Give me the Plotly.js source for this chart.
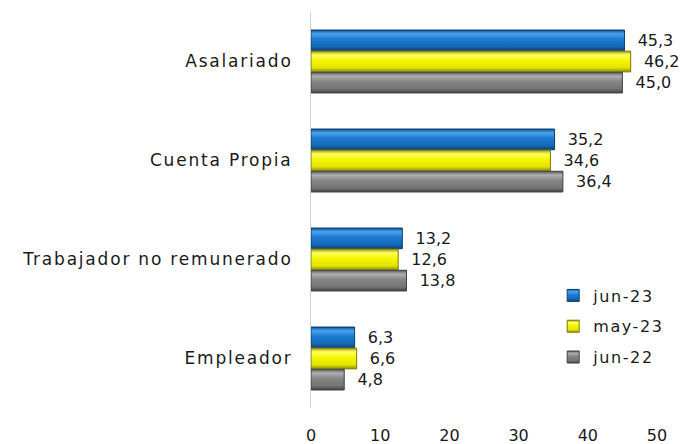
<!DOCTYPE html>
<html><head><meta charset="utf-8">
<script src="https://cdn.plot.ly/plotly-3.0.1.min.js"></script>
<style>
html,body{margin:0;padding:0;background:#fff}
#chart .ytick text{letter-spacing:1.8px}
#chart .legendtext{letter-spacing:1.6px}
</style>
</head><body>
<div id="chart" style="width:697px;height:444px"></div>
<script>
const categories = ["Asalariado", "Cuenta Propia", "Trabajador no remunerado", "Empleador"];
const seriesNames = ["jun-23", "may-23", "jun-22"];
const jun23 = [45.3, 35.2, 13.2, 6.3];
const may23 = [46.2, 34.6, 12.6, 6.6];
const jun22 = [45.0, 36.4, 13.8, 4.8];
const xTicks = [0, 10, 20, 30, 40, 50];

const colors = ["#1472C4", "#F2F200", "#7F7F7F"];
const edges = ["#0B3F70", "#7A7A00", "#404040"];
// gradient stops (top -> bottom) for a bevelled look
const grads = [
  ["#0D4F8E", "#4AA3EC", "#1C7BD0", "#1469B6", "#0A4279"],
  ["#9C9C00", "#FFFF66", "#F5F500", "#E4E400", "#8E8E00"],
  ["#555555", "#B0B0B0", "#858585", "#747474", "#444444"]
];
const FONT = "DejaVu Sans, sans-serif";

const series = [jun23, may23, jun22];
const traces = series.map((vals, i) => ({
  type: "bar",
  orientation: "h",
  name: seriesNames[i],
  legendgroup: "g" + i,
  y: categories,
  x: vals,
  marker: {color: colors[i], line: {color: edges[i], width: 1}},
  text: vals.map(v => "  " + v.toFixed(1).replace(".", ",")),
  textposition: "outside",
  cliponaxis: false,
  textfont: {family: FONT, size: 16, color: "#1a1a1a"},
  hoverinfo: "none"
}));

const layout = {
  width: 697, height: 444,
  margin: {l: 311, r: 40, t: 12, b: 36},
  barmode: "group",
  bargap: 0.36,
  bargroupgap: 0.02,
  paper_bgcolor: "#fff", plot_bgcolor: "#fff",
  font: {family: FONT, size: 16, color: "#1a1a1a"},
  showlegend: true,
  legend: {x: 0.70, y: 0.327, xanchor: "left", yanchor: "top",
           traceorder: "grouped", font: {family: FONT, size: 16, color: "#1a1a1a"},
           itemwidth: 30, tracegroupgap: 7, bgcolor: "rgba(0,0,0,0)"},
  xaxis: {range: [0, 50], tickvals: xTicks, ticktext: xTicks.map(String),
          showgrid: false, zeroline: false, showline: false,
          ticks: "outside", ticklen: 13, tickcolor: "rgba(0,0,0,0)",
          tickfont: {family: FONT, size: 16, color: "#1a1a1a"}},
  yaxis: {categoryorder: "array", categoryarray: categories, autorange: "reversed",
          showgrid: false, zeroline: false, showline: true, linecolor: "#D0D0D0", linewidth: 1,
          ticks: "outside", ticklen: 14, tickcolor: "rgba(0,0,0,0)",
          tickfont: {family: FONT, size: 17, color: "#1a1a1a"}}
};

function applyGradients(gd) {
  const svg = gd.querySelector("svg.main-svg");
  const ns = "http://www.w3.org/2000/svg";
  let defs = svg.querySelector("defs");
  if (!defs) { defs = document.createElementNS(ns, "defs"); svg.insertBefore(defs, svg.firstChild); }
  grads.forEach((stops, i) => {
    const lg = document.createElementNS(ns, "linearGradient");
    lg.setAttribute("id", "bevel" + i);
    lg.setAttribute("x1", "0"); lg.setAttribute("y1", "0");
    lg.setAttribute("x2", "0"); lg.setAttribute("y2", "1");
    const offs = [0, 0.18, 0.45, 0.8, 1];
    stops.forEach((c, k) => {
      const s = document.createElementNS(ns, "stop");
      s.setAttribute("offset", offs[k]); s.setAttribute("stop-color", c);
      lg.appendChild(s);
    });
    defs.appendChild(lg);
  });
  gd.querySelectorAll(".barlayer .trace.bars").forEach((tr, i) => {
    tr.querySelectorAll("path").forEach(p => { p.style.fill = "url(#bevel" + i + ")"; });
  });
  gd.querySelectorAll(".legend .traces").forEach((tr, i) => {
    tr.querySelectorAll(".legendpoints path").forEach(p => {
      p.style.fill = "url(#bevel" + i + ")";
    });
  });
  // letter-spaced legend text is wider than Plotly measured: drop the legend clip
  gd.querySelectorAll(".legend [clip-path]").forEach(el => el.removeAttribute("clip-path"));
  gd.querySelectorAll(".legend").forEach(el => el.removeAttribute("clip-path"));
}

Plotly.newPlot("chart", traces, layout, {staticPlot: true, displayModeBar: false})
  .then(applyGradients);
</script>
</body></html>
